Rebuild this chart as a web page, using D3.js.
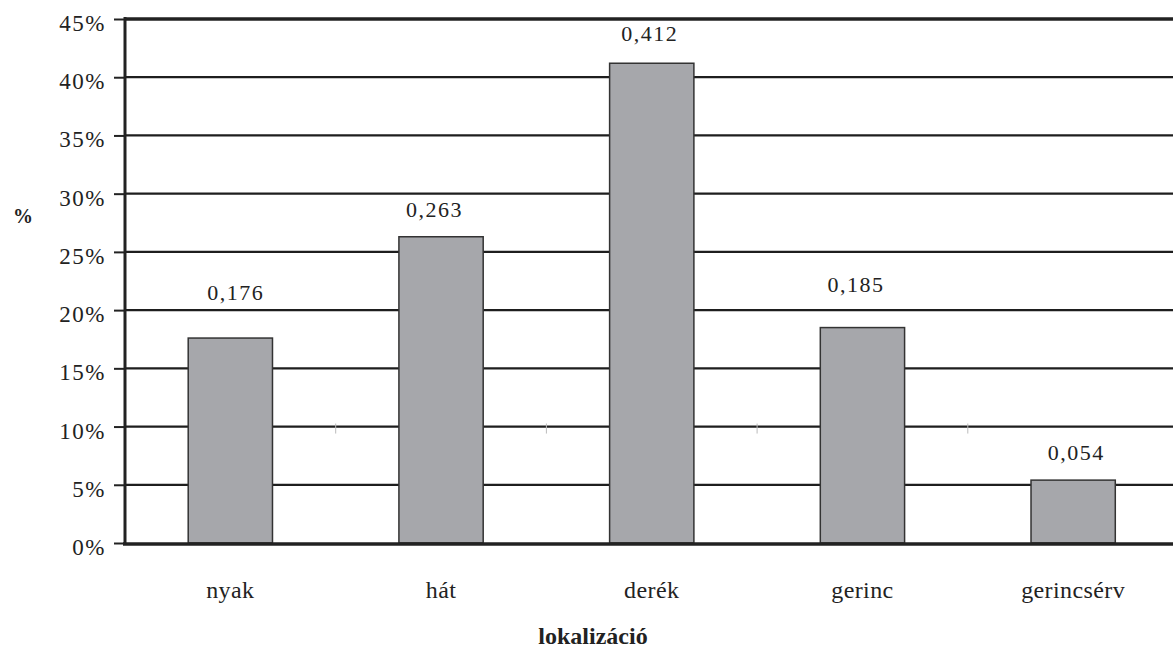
<!DOCTYPE html>
<html>
<head>
<meta charset="utf-8">
<script src="https://cdn.jsdelivr.net/npm/d3@7/dist/d3.min.js"></script>
<style>
  html, body { margin: 0; padding: 0; background: #fff; overflow: hidden; }
  svg { display: block; }
  text { font-family: "Liberation Serif", "DejaVu Serif", serif; fill: #222; }
</style>
</head>
<body>
<svg id="chart" width="1173" height="648"></svg>
<script>
// Localisation of complaints, share of respondents
const categories = ["nyak", "hát", "derék", "gerinc", "gerincsérv"];
const shares = [0.176, 0.263, 0.412, 0.185, 0.054];
const valueLabels = ["0,176", "0,263", "0,412", "0,185", "0,054"];
const yTicks = [0, 0.05, 0.10, 0.15, 0.20, 0.25, 0.30, 0.35, 0.40, 0.45];
const yTickLabels = ["0%", "5%", "10%", "15%", "20%", "25%", "30%", "35%", "40%", "45%"];
const xTitle = "lokalizáció";
const yTitle = "%";

// value label placement: [horizontal shift from bar centre, baseline lift above bar top] in px
const labelOffsets = [[5.5, 38], [-6.5, 20], [-2, 22], [-6.5, 36], [3, 20]];

const svg = d3.select("#chart");
const plotLeft = 125, plotTop = 19, plotBottom = 543;
const step = 210.7;
const plotRight = plotLeft + step * categories.length;

const x = d3.scaleBand().domain(categories).range([plotLeft, plotRight]).paddingInner(0.6).paddingOuter(0.3);
const y = d3.scaleLinear().domain([0, 0.45]).range([plotBottom, plotTop]);

// horizontal gridlines
svg.append("g").selectAll("line").data(yTicks.filter(d => d > 0 && d < 0.45)).join("line")
  .attr("x1", plotLeft).attr("x2", plotRight)
  .attr("y1", d => y(d)).attr("y2", d => y(d))
  .attr("stroke", "#1e1e1e").attr("stroke-width", 2.2);

// top border
svg.append("line").attr("x1", plotLeft).attr("x2", plotRight)
  .attr("y1", y(0.45)).attr("y2", y(0.45))
  .attr("stroke", "#222").attr("stroke-width", 3.5);

// bars
svg.append("g").selectAll("rect").data(shares).join("rect")
  .attr("x", (d, i) => x(categories[i]))
  .attr("width", x.bandwidth())
  .attr("y", d => y(d))
  .attr("height", d => y(0) - y(d))
  .attr("fill", "#a6a7ab")
  .attr("stroke", "#333").attr("stroke-width", 1.5);

// small category separators
svg.append("g").selectAll("line").data(categories.slice(0, -1)).join("line")
  .attr("x1", d => x(d) + x.bandwidth() + x.step() * 0.3)
  .attr("x2", d => x(d) + x.bandwidth() + x.step() * 0.3)
  .attr("y1", y(0.10) - 3).attr("y2", y(0.10) + 7)
  .attr("stroke", "#bbb").attr("stroke-width", 1);

// y axis
const yAxis = d3.axisLeft(y).tickValues(yTicks)
  .tickFormat((d, i) => yTickLabels[i]).tickSize(11).tickPadding(8);
const gy = svg.append("g").attr("transform", `translate(${plotLeft},0)`).call(yAxis);
gy.select(".domain").remove();
gy.selectAll(".tick line").attr("stroke", "#222").attr("stroke-width", 2);
gy.selectAll(".tick text").attr("font-size", 23).attr("fill", "#222").attr("dy", "0.5em")
  .style("font-family", '"Liberation Serif", serif').style("letter-spacing", "1.5px");

svg.append("line").attr("x1", plotLeft).attr("x2", plotLeft)
  .attr("y1", plotTop - 2).attr("y2", plotBottom + 2)
  .attr("stroke", "#222").attr("stroke-width", 3);

// x axis baseline
svg.append("line").attr("x1", plotLeft - 2).attr("x2", plotRight)
  .attr("y1", plotBottom + 1).attr("y2", plotBottom + 1)
  .attr("stroke", "#222").attr("stroke-width", 3.5);

// category labels
svg.append("g").selectAll("text").data(categories).join("text")
  .attr("x", d => x(d) + x.bandwidth() / 2)
  .attr("y", 598)
  .attr("text-anchor", "middle")
  .attr("font-size", 24)
  .style("letter-spacing", "0.4px")
  .text(d => d);

// value labels
svg.append("g").selectAll("text").data(shares).join("text")
  .attr("x", (d, i) => x(categories[i]) + x.bandwidth() / 2 + labelOffsets[i][0])
  .attr("y", (d, i) => y(d) - labelOffsets[i][1])
  .attr("text-anchor", "middle")
  .attr("font-size", 22)
  .style("letter-spacing", "1.5px")
  .text((d, i) => valueLabels[i]);

// axis titles
svg.append("text").attr("x", 593).attr("y", 644)
  .attr("text-anchor", "middle").attr("font-size", 24).attr("font-weight", "bold")
  .text(xTitle);
svg.append("text").attr("x", 23).attr("y", 223)
  .attr("text-anchor", "middle").attr("font-size", 20).attr("font-weight", "bold")
  .text(yTitle);
</script>
</body>
</html>
